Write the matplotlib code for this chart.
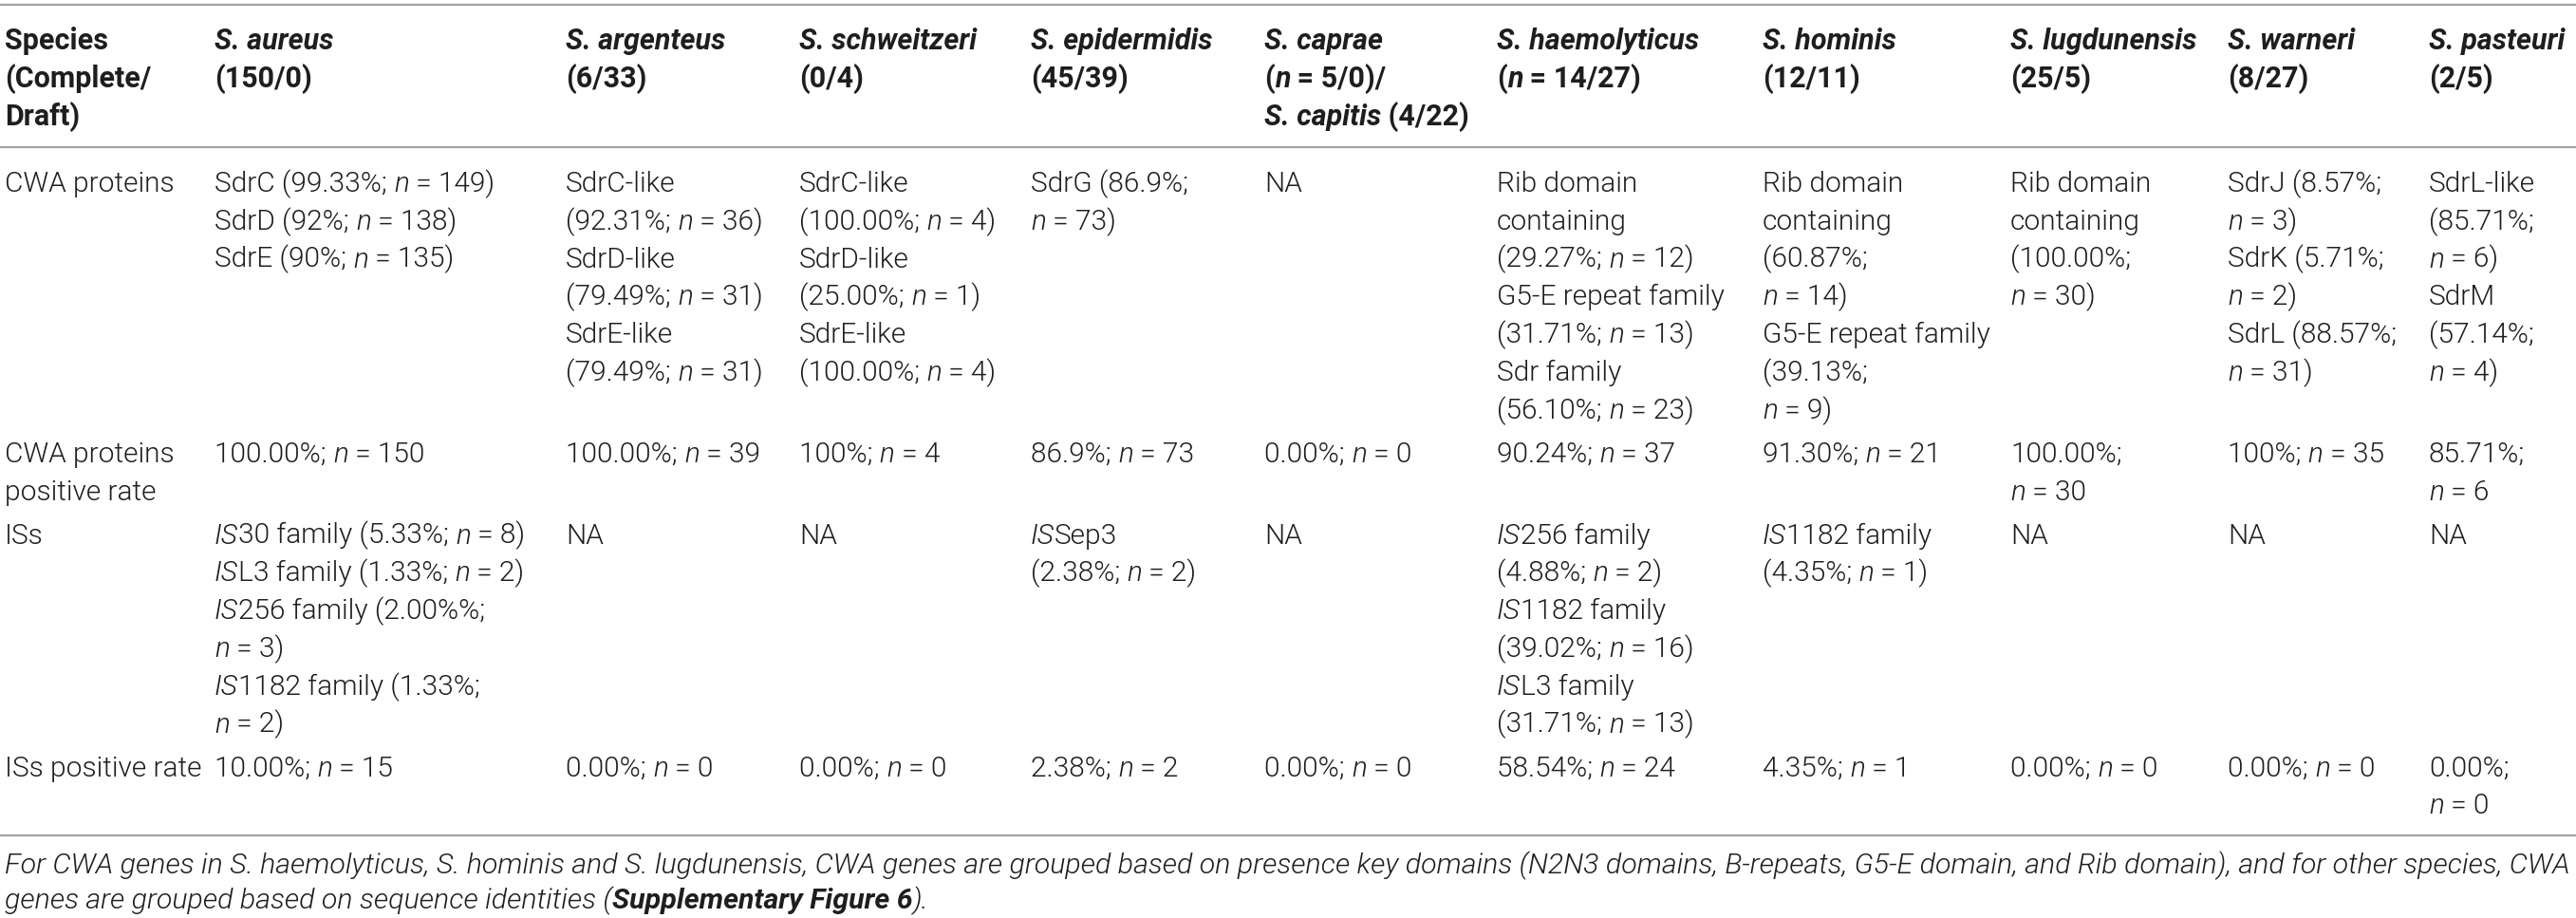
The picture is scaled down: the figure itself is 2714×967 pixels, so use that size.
import matplotlib
matplotlib.use("Agg")
import matplotlib.pyplot as plt

# ---------------- data ----------------
# markup: "_" toggles italic, "~" toggles bold
row_labels = [
    ["CWA proteins"],
    ["CWA proteins", "positive rate"],
    ["ISs"],
    ["ISs positive rate"],
]

header_col0 = ["Species", "(Complete/", "Draft)"]
species_headers = [
    ["_S. aureus_", "(150/0)"],
    ["_S. argenteus_", "(6/33)"],
    ["_S. schweitzeri_", "(0/4)"],
    ["_S. epidermidis_", "(45/39)"],
    ["_S. caprae_", "(_n_ = 5/0)/", "_S. capitis_ (4/22)"],
    ["_S. haemolyticus_", "(_n_ = 14/27)"],
    ["_S. hominis_", "(12/11)"],
    ["_S. lugdunensis_", "(25/5)"],
    ["_S. warneri_", "(8/27)"],
    ["_S. pasteuri_", "(2/5)"],
]

cwa_proteins = [
    ["SdrC (99.33%; _n_ = 149)", "SdrD (92%; _n_ = 138)", "SdrE (90%; _n_ = 135)"],
    ["SdrC-like", "(92.31%; _n_ = 36)", "SdrD-like", "(79.49%; _n_ = 31)",
     "SdrE-like", "(79.49%; _n_ = 31)"],
    ["SdrC-like", "(100.00%; _n_ = 4)", "SdrD-like", "(25.00%; _n_ = 1)",
     "SdrE-like", "(100.00%; _n_ = 4)"],
    ["SdrG (86.9%;", "_n_ = 73)"],
    ["NA"],
    ["Rib domain", "containing", "(29.27%; _n_ = 12)", "G5-E repeat family",
     "(31.71%; _n_ = 13)", "Sdr family", "(56.10%; _n_ = 23)"],
    ["Rib domain", "containing", "(60.87%;", "_n_ = 14)", "G5-E repeat family",
     "(39.13%;", "_n_ = 9)"],
    ["Rib domain", "containing", "(100.00%;", "_n_ = 30)"],
    ["SdrJ (8.57%;", "_n_ = 3)", "SdrK (5.71%;", "_n_ = 2)", "SdrL (88.57%;", "_n_ = 31)"],
    ["SdrL-like", "(85.71%;", "_n_ = 6)", "SdrM", "(57.14%;", "_n_ = 4)"],
]

cwa_positive_rate = [
    ["100.00%; _n_ = 150"],
    ["100.00%; _n_ = 39"],
    ["100%; _n_ = 4"],
    ["86.9%; _n_ = 73"],
    ["0.00%; _n_ = 0"],
    ["90.24%; _n_ = 37"],
    ["91.30%; _n_ = 21"],
    ["100.00%;", "_n_ = 30"],
    ["100%; _n_ = 35"],
    ["85.71%;", "_n_ = 6"],
]

iss = [
    ["_IS_30 family (5.33%; _n_ = 8)", "_IS_L3 family (1.33%; _n_ = 2)",
     "_IS_256 family (2.00%%;", "_n_ = 3)", "_IS_1182 family (1.33%;", "_n_ = 2)"],
    ["NA"],
    ["NA"],
    ["_IS_Sep3", "(2.38%; _n_ = 2)"],
    ["NA"],
    ["_IS_256 family", "(4.88%; _n_ = 2)", "_IS_1182 family", "(39.02%; _n_ = 16)",
     "_IS_L3 family", "(31.71%; _n_ = 13)"],
    ["_IS_1182 family", "(4.35%; _n_ = 1)"],
    ["NA"],
    ["NA"],
    ["NA"],
]

iss_positive_rate = [
    ["10.00%; _n_ = 15"],
    ["0.00%; _n_ = 0"],
    ["0.00%; _n_ = 0"],
    ["2.38%; _n_ = 2"],
    ["0.00%; _n_ = 0"],
    ["58.54%; _n_ = 24"],
    ["4.35%; _n_ = 1"],
    ["0.00%; _n_ = 0"],
    ["0.00%; _n_ = 0"],
    ["0.00%;", "_n_ = 0"],
]

footnote = [
    "For CWA genes in S. haemolyticus, S. hominis and S. lugdunensis, CWA genes are grouped "
    "based on presence key domains (N2N3 domains, B-repeats, G5-E domain, and Rib domain), "
    "and for other species, CWA",
    "genes are grouped based on sequence identities (~Supplementary Figure 6~).",
]

# ---------------- layout ----------------
W, H = 2714, 967
fig = plt.figure(figsize=(W / 100, H / 100), dpi=100)
ax = fig.add_axes([0, 0, 1, 1])
ax.set_xlim(0, W)
ax.set_ylim(H, 0)
ax.axis("off")
renderer = fig.canvas.get_renderer()

FAMILY = "Roboto"
LIGHT = 300
BOLD = 700
COLOR = "#1e1e1e"
LINE_COLOR = "#a3a3a3"

col_x = [5, 226, 596, 842, 1086, 1332, 1577, 1857, 2118, 2347, 2559]
PITCH = 39.8
BASE_OFF = 10


def parse(s, bold=False, italic=False):
    segs, cur = [], ""
    for ch in s:
        if ch in "_~":
            if cur:
                segs.append((cur, bold, italic))
                cur = ""
            if ch == "_":
                italic = not italic
            else:
                bold = not bold
        else:
            cur += ch
    if cur:
        segs.append((cur, bold, italic))
    return segs


_cache = {}


def _raw_w(txt, bold, italic, fs):
    key = (txt, bold, italic, fs)
    if key not in _cache:
        t = ax.text(0, 0, txt, fontsize=fs, family=FAMILY,
                    weight=BOLD if bold else LIGHT,
                    style="italic" if italic else "normal")
        _cache[key] = t.get_window_extent(renderer).width
        t.remove()
    return _cache[key]


def seg_width(txt, bold, italic, fs):
    return _raw_w("|" + txt + "|", bold, italic, fs) - _raw_w("||", bold, italic, fs)


def line_width(s, fs, bold=False, italic=False):
    return sum(seg_width(t, b, i, fs) for t, b, i in parse(s, bold, italic))


def draw_line(x, yc, s, fs, bold=False, italic=False):
    for txt, b, it in parse(s, bold, italic):
        ax.text(x, yc + BASE_OFF, txt, fontsize=fs, family=FAMILY,
                weight=BOLD if b else LIGHT,
                style="italic" if it else "normal",
                color=COLOR, va="baseline", ha="left")
        x += seg_width(txt, b, it, fs)


def draw_cell(x, y0, lines, fs, bold=False, italic=False, pitch=PITCH):
    for i, ln in enumerate(lines):
        draw_line(x, y0 + i * pitch, ln, fs, bold, italic)


# calibrate font sizes to the widths seen in the reference
FS_BODY = 20 * 295.0 / line_width(cwa_proteins[0][0], 20)
FS_HEAD = 20 * 221.0 / line_width(species_headers[5][0], 20, bold=True)
FS_NOTE = 20 * (2705.0 - col_x[0]) / line_width(footnote[0], 20, italic=True)
FS_BODY = min(max(FS_BODY, 18), 22)
FS_HEAD = min(max(FS_HEAD, 18), 22)
FS_NOTE = min(max(FS_NOTE, 18), 22)

# rules
for yl in (5, 155, 880):
    ax.plot([0, W], [yl, yl], color=LINE_COLOR, lw=1.6, solid_capstyle="butt")

# header
draw_cell(col_x[0], 42, header_col0, FS_HEAD, bold=True, pitch=40)
for cx, hd in zip(col_x[1:], species_headers):
    draw_cell(cx, 42, hd, FS_HEAD, bold=True, pitch=40)

# body rows
rows = [cwa_proteins, cwa_positive_rate, iss, iss_positive_rate]
y = 192
GAP = 46
for label, row in zip(row_labels, rows):
    draw_cell(col_x[0], y, label, FS_BODY)
    for cx, cell in zip(col_x[1:], row):
        draw_cell(cx, y, cell, FS_BODY)
    nmax = max(len(label), max(len(c) for c in row))
    y += (nmax - 1) * PITCH + GAP

# footnote
draw_cell(col_x[0], 910, footnote, FS_NOTE, italic=True, pitch=37)

fig.savefig("out.png", dpi=100)
